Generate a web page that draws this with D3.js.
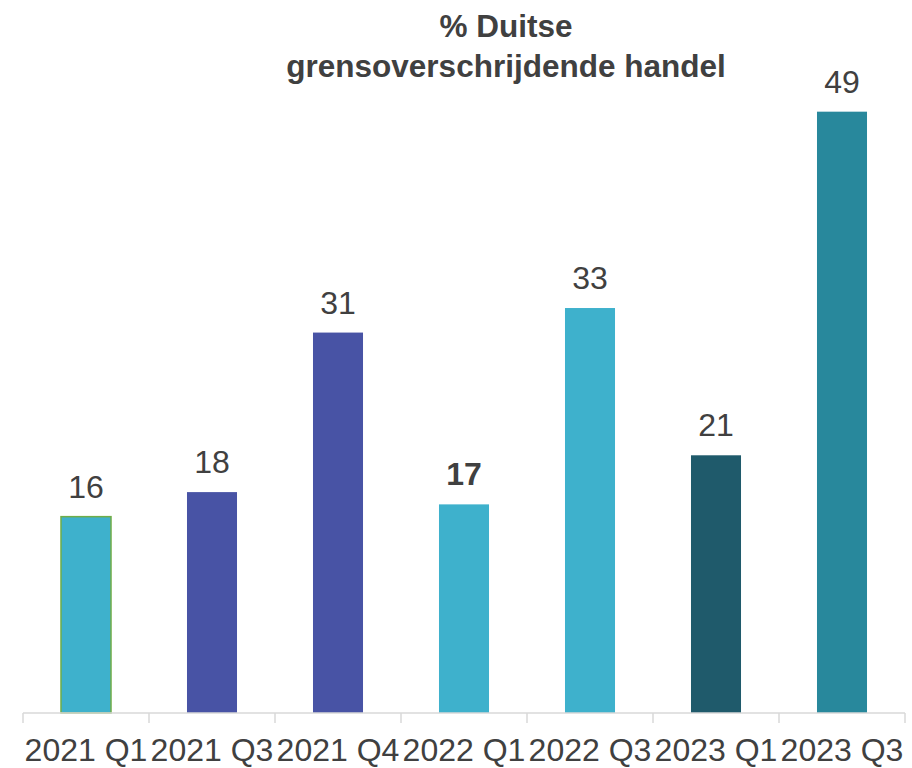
<!DOCTYPE html>
<html>
<head>
<meta charset="utf-8">
<script src="https://cdn.jsdelivr.net/npm/d3@7"></script>
<style>
  body { margin: 0; background: #fff; }
  svg { display: block; font-family: "Liberation Sans", Arial, sans-serif; }
</style>
</head>
<body>
<svg id="chart" width="912" height="768"></svg>
<script>
const categories = ["2021 Q1", "2021 Q3", "2021 Q4", "2022 Q1", "2022 Q3", "2023 Q1", "2023 Q3"];
const values = [16, 18, 31, 17, 33, 21, 49];
const barColors = ["#3EB1CC", "#4853A5", "#4853A5", "#3EB1CC", "#3EB1CC", "#1F5A6B", "#28889C"];
const barStrokes = ["#70AD47", null, null, null, null, null, null];
const boldLabels = [false, false, false, true, false, false, false];
const titleLines = ["% Duitse", "grensoverschrijdende handel"];

const svg = d3.select("#chart");
const textColor = "#404040";
const left = 23, right = 905, baseY = 713;

const x = d3.scaleBand().domain(categories).range([left, right]).padding(0);
const y = d3.scaleLinear().domain([0, 58.1]).range([baseY, 0]);
const barW = x.bandwidth() * 0.397;

// title
svg.append("g").selectAll("text").data(titleLines).join("text")
  .attr("x", 506).attr("y", (d, i) => 37 + i * 40)
  .attr("text-anchor", "middle").attr("font-size", 31.5).attr("font-weight", "bold")
  .attr("fill", textColor).text(d => d);

// bars
const data = categories.map((c, i) => ({c, v: values[i], i}));
svg.append("g").selectAll("rect").data(data).join("rect")
  .attr("x", d => x(d.c) + (x.bandwidth() - barW) / 2)
  .attr("y", d => y(d.v))
  .attr("width", barW)
  .attr("height", d => y(0) - y(d.v))
  .attr("fill", d => barColors[d.i])
  .attr("stroke", d => barStrokes[d.i] || "none")
  .attr("stroke-width", 1.5);

// value labels
svg.append("g").selectAll("text").data(data).join("text")
  .attr("x", d => x(d.c) + x.bandwidth() / 2)
  .attr("y", d => y(d.v) - 19)
  .attr("text-anchor", "middle").attr("font-size", 32)
  .attr("font-weight", d => boldLabels[d.i] ? "bold" : "normal")
  .attr("fill", textColor).text(d => d.v);

// axis
const axis = svg.append("g");
axis.append("line").attr("x1", left).attr("x2", right).attr("y1", baseY).attr("y2", baseY)
  .attr("stroke", "#D9D9D9").attr("stroke-width", 1.5);
const tickPos = categories.map(c => x(c)).concat([x.range()[1]]);
axis.selectAll("line.tick").data(tickPos).join("line").attr("class", "tick")
  .attr("x1", d => d).attr("x2", d => d).attr("y1", baseY).attr("y2", baseY + 10)
  .attr("stroke", "#D9D9D9").attr("stroke-width", 1.5);
axis.selectAll("text").data(categories).join("text")
  .attr("x", d => x(d) + x.bandwidth() / 2).attr("y", 761)
  .attr("text-anchor", "middle").attr("font-size", 32)
  .attr("fill", textColor).text(d => d);
</script>
</body>
</html>
